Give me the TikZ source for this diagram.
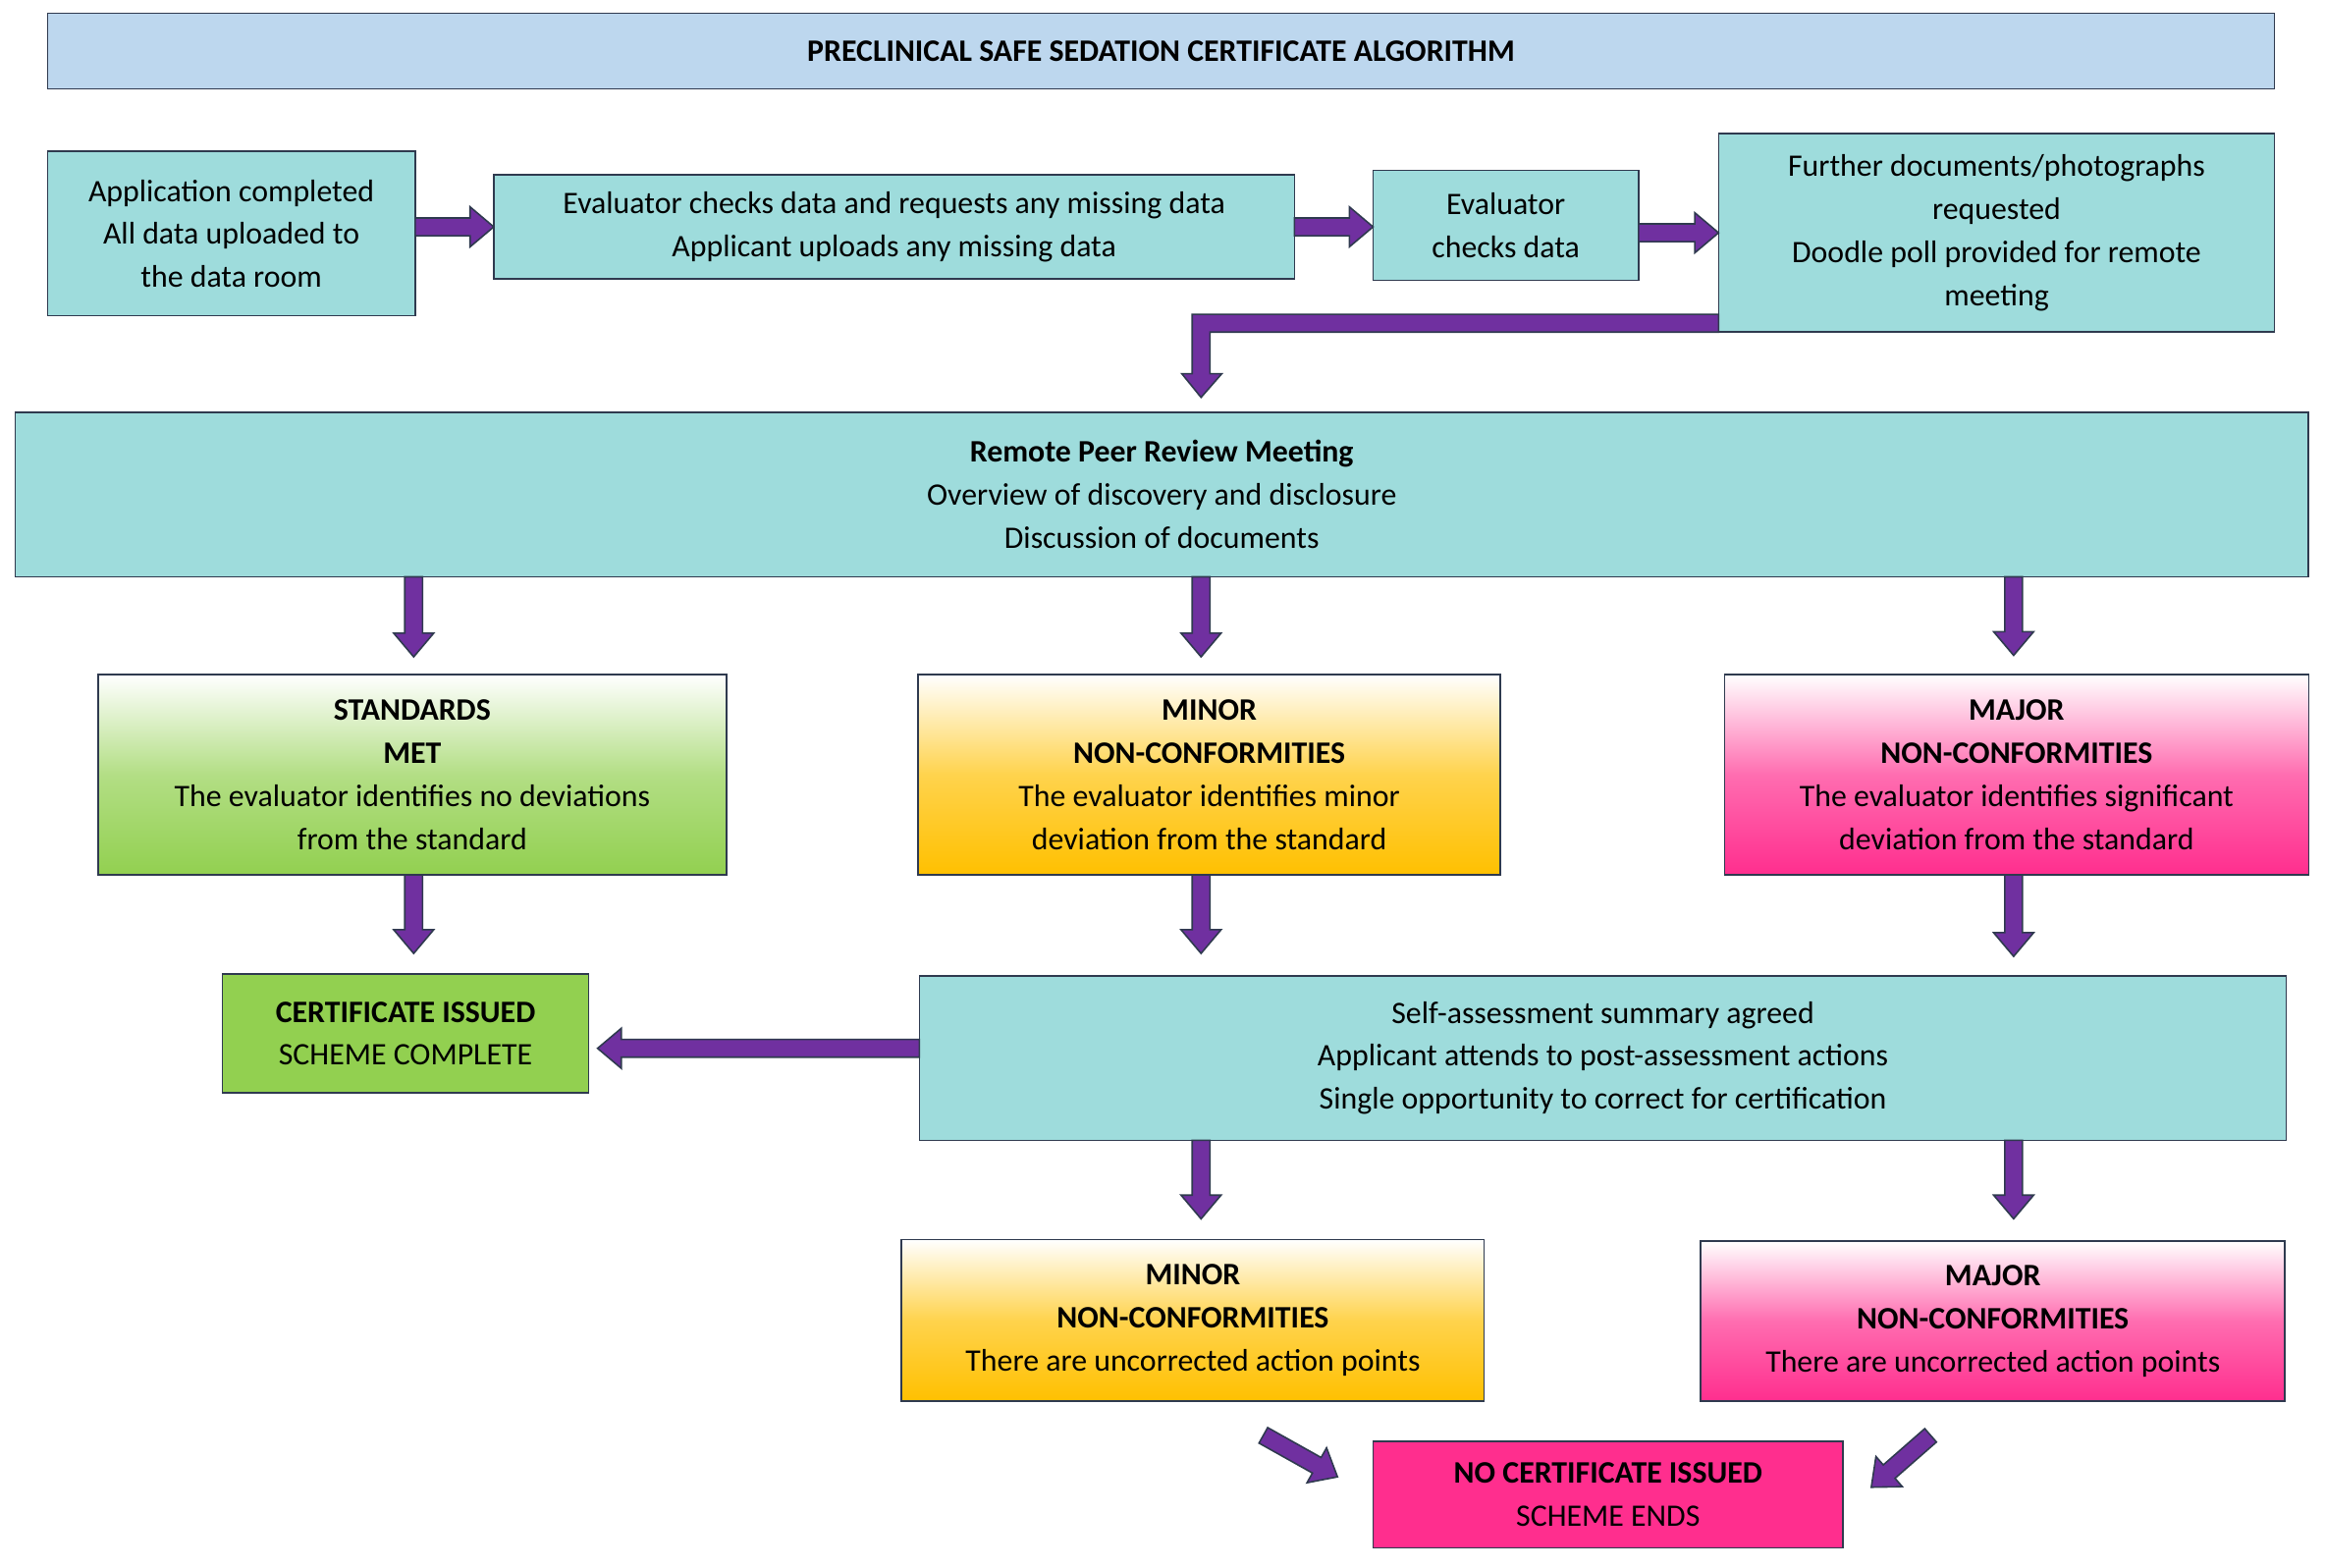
\documentclass[tikz,border=0pt]{standalone}
\usepackage{fontspec}
\setmainfont{Carlito}
\usetikzlibrary{calc}
\definecolor{tealc}{HTML}{9EDCDC}
\definecolor{ttl}{HTML}{BDD7EE}
\definecolor{grn}{HTML}{92D050}
\definecolor{org}{HTML}{FFC000}
\definecolor{pnk}{HTML}{FF2E8E}
\definecolor{purp}{HTML}{7030A0}
\definecolor{edgec}{HTML}{2F3A4F}
\tikzset{
 bx/.style={draw=edgec, line width=0.6pt, align=center, inner sep=2pt, font=\fontsize{12}{16.5}\selectfont},
 gr/.style={bx, top color=white, bottom color=grn, middle color=grn!70},
 og/.style={bx, top color=white, bottom color=org, middle color=org!70},
 pk/.style={bx, top color=white, bottom color=pnk, middle color=pnk!70},
 arr/.style={fill=purp, draw=edgec, line width=0.6pt, line join=miter}
}
\newcommand{\barrow}[5]{%
 \coordinate (#1a) at (#2,#3); \coordinate (#1b) at (#4,#5);
 \coordinate (#1h) at ($(#1b)!0.32cm!(#1a)$);
 \draw[arr] ($(#1a)!0.12cm!90:(#1b)$) -- ($(#1h)!0.12cm!-90:(#1a)$) -- ($(#1h)!0.27cm!-90:(#1a)$) -- (#1b) -- ($(#1h)!0.27cm!90:(#1a)$) -- ($(#1h)!0.12cm!90:(#1a)$) -- ($(#1a)!0.12cm!-90:(#1b)$) -- cycle;}
\begin{document}
\begin{tikzpicture}[x=0.02cm,y=-0.02cm]
\useasboundingbox (0,0) rectangle (1568,1057);
\node[bx, fill=ttl, minimum width=30.04cm, minimum height=1.02cm, font=\fontsize{12}{16.5}\selectfont\bfseries] (title) at (783,34.5) {PRECLINICAL SAFE SEDATION CERTIFICATE ALGORITHM};
\node[bx, fill=tealc, minimum width=4.96cm, minimum height=2.22cm] (b1) at (156,157.5) {Application completed\\All data uploaded to\\the data room};
\node[bx, fill=tealc, minimum width=10.8cm, minimum height=1.4cm] (b2) at (603,153) {Evaluator checks data and requests any missing data\\Applicant uploads any missing data};
\node[bx, fill=tealc, minimum width=3.58cm, minimum height=1.48cm] (b3) at (1015.5,152) {Evaluator\\checks data};
\node[bx, fill=tealc, minimum width=7.5cm, minimum height=2.68cm] (b4) at (1346.5,157) {Further documents/photographs\\requested\\Doodle poll provided for remote\\meeting};
\node[bx, fill=tealc, minimum width=30.94cm, minimum height=2.22cm] (remote) at (783.5,333.5) {\textbf{Remote Peer Review Meeting}\\Overview of discovery and disclosure\\Discussion of documents};
\node[gr, minimum width=8.48cm, minimum height=2.7cm] (std) at (278,522.5) {\textbf{STANDARDS}\\\textbf{MET}\\The evaluator identifies no deviations\\from the standard};
\node[og, minimum width=7.86cm, minimum height=2.7cm] (minor) at (815.5,522.5) {\textbf{MINOR}\\\textbf{NON-CONFORMITIES}\\The evaluator identifies minor\\deviation from the standard};
\node[pk, minimum width=7.88cm, minimum height=2.7cm] (major) at (1360,522.5) {\textbf{MAJOR}\\\textbf{NON-CONFORMITIES}\\The evaluator identifies significant\\deviation from the standard};
\node[bx, fill=grn, minimum width=4.94cm, minimum height=1.6cm] (cert) at (273.5,697) {\textbf{CERTIFICATE ISSUED}\\SCHEME COMPLETE};
\node[bx, fill=tealc, minimum width=18.44cm, minimum height=2.22cm] (self) at (1081,713.5) {Self-assessment summary agreed\\Applicant attends to post-assessment actions\\Single opportunity to correct for certification};
\node[og, minimum width=7.86cm, minimum height=2.18cm] (minor2) at (804.5,890.5) {\textbf{MINOR}\\\textbf{NON-CONFORMITIES}\\There are uncorrected action points};
\node[pk, minimum width=7.88cm, minimum height=2.16cm] (major2) at (1344,891) {\textbf{MAJOR}\\\textbf{NON-CONFORMITIES}\\There are uncorrected action points};
\node[bx, fill=pnk, minimum width=6.34cm, minimum height=1.44cm] (nocert) at (1084.5,1008) {\textbf{NO CERTIFICATE ISSUED}\\SCHEME ENDS};
\barrow{aa}{280}{153}{333}{153}
\barrow{ab}{873}{153}{926}{153}
\barrow{ac}{1105}{157}{1159}{157}
\draw[arr] (1159,212) -- (804,212) -- (804,252) -- (797,252) -- (810,268) -- (824,252) -- (816,252) -- (816,224) -- (1159,224) -- cycle;
\barrow{ad}{279}{389}{279}{443}
\barrow{ae}{810}{389}{810}{443}
\barrow{af}{1358}{389}{1358}{442}
\barrow{ag}{279}{590}{279}{643}
\barrow{ah}{810}{590}{810}{643}
\barrow{ai}{1358}{590}{1358}{645}
\barrow{aj}{620}{707}{403}{707}
\barrow{ak}{810}{769}{810}{822}
\barrow{al}{1358}{769}{1358}{822}
\barrow{am}{852}{968}{902}{996}
\barrow{an}{1302}{968}{1262}{1003}
\end{tikzpicture}
\end{document}
